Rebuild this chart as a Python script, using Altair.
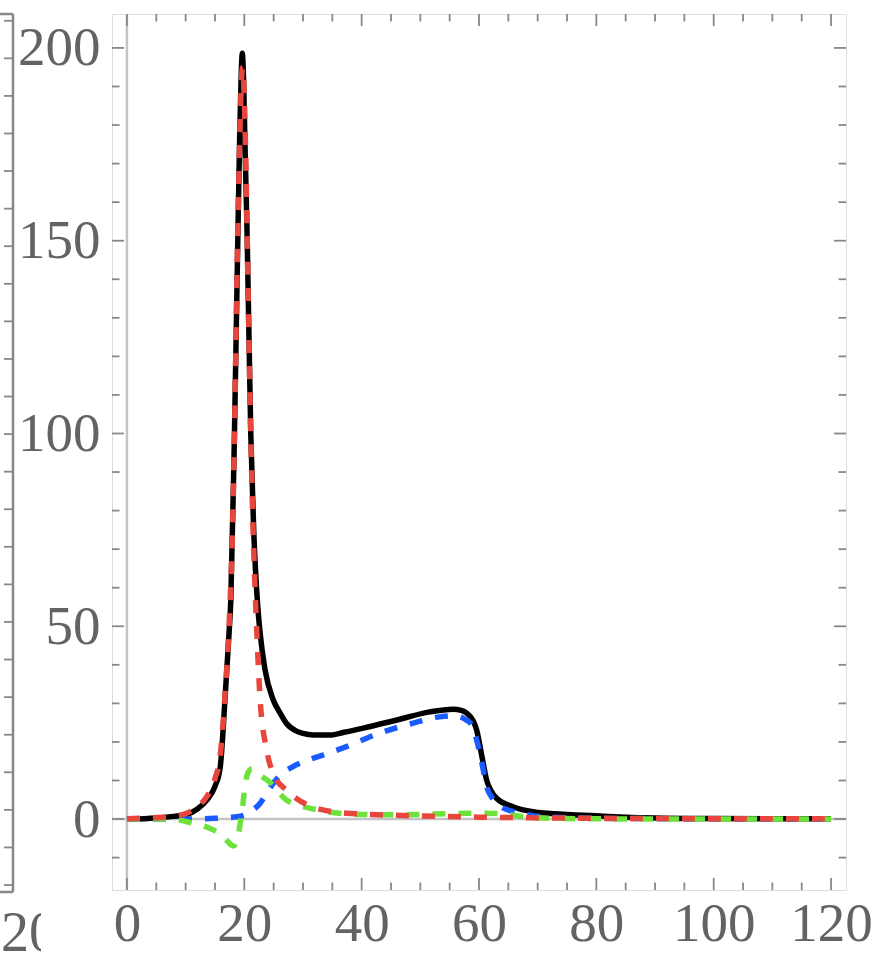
import altair as alt
import pandas as pd

# --- series read as (x, y) pairs ---------------------------------------
total_x = [0, 5, 8, 10.2, 12, 13.6, 15, 15.9, 16.7, 17.4, 17.7, 18.3, 18.9, 19.2, 19.45, 19.66,
           19.9, 20.1, 20.5, 21.1, 21.6, 22.3, 22.7, 23.5, 24.9, 26.1, 27.2, 28.9, 30, 31.8, 34.6,
           37, 40.3, 46, 51.6, 55.6, 57, 57.9, 59, 59.6, 60.5, 61.3, 62, 63, 65.8, 69.2, 75, 80.6,
           85, 90, 100, 110, 120]
total_y = [0, 0.3, 0.7, 1.2, 2.6, 4.9, 8.5, 13.5, 30.9, 48.2, 56.8, 98.3, 151, 176, 192, 198.6,
           190, 176, 150, 100, 75, 55, 48.2, 39, 31, 27.5, 24.8, 22.8, 22.2, 21.8, 21.8,
           22.5, 23.6, 25.7, 27.8, 28.5, 28.2, 27.5, 25.5, 23.1, 16.2, 10.1, 7.5, 5.4, 3.2, 1.9, 1.2, 0.8,
           0.5, 0.3, 0.15, 0.08, 0.05]

peak_x = [0, 4, 7, 10, 12, 13.6, 15, 15.9, 16.7, 17.4, 18.0, 18.3, 18.87, 19.2, 19.5, 19.7,
          19.9, 20.2, 20.5, 21.1, 21.5, 22.2, 22.7, 23.8, 25.2, 27.2, 29, 31.2, 33, 35.1, 40.2,
          45, 50, 60, 70, 80, 100, 120]
peak_y = [0.1, 0.3, 0.6, 1.4, 3.2, 5.8, 10.5, 16.5, 32, 50, 76, 98, 151, 175, 191, 195,
          191, 175, 150, 100, 75, 46, 31, 18, 11, 7.5, 5.2, 3.4, 2.5, 1.9, 1.3,
          1.0, 0.8, 0.5, 0.3, 0.2, 0.1, 0.05]

deriv_x = [0, 8, 10.2, 12, 14.1, 15.5, 16.8, 17.6, 18.1, 18.6, 19.0, 19.3, 19.7, 20.0, 20.4,
           20.8, 21.3, 21.8, 22.5, 23.4, 24.4, 25.8, 27.2, 29, 31.8, 35, 40, 45, 50, 55, 60, 63.6,
           66, 69, 73, 80, 120]
deriv_y = [0, 0, -0.7, -1.3, -2.4, -3.5, -5.2, -6.5, -7.0, -6.2, -4, -1.1, 3, 7, 11,
           12.5, 13, 12.6, 11.6, 10.6, 9.5, 7, 4.9, 3.7, 2.6, 1.7, 1.2, 1.1, 1.2, 1.4, 1.5, 1.4,
           0.9, 0.4, 0.15, 0.05, 0]

broad_x = [0, 10, 15, 18.7, 20.4, 21.5, 22.7, 24, 25.2, 26.1, 28.3, 31.8, 33.4, 37.4, 43.1,
           48.8, 53.3, 55.5, 56.6, 57.6, 58.5, 59.6, 60.5, 61.3, 62.2, 63, 65.8, 68.7, 72, 80,
           90, 120]
broad_y = [0, 0, 0.2, 0.6, 1.3, 2.4, 4.1, 7.2, 9.8, 11.4, 13.6, 15.8, 16.6, 18.8, 22.3,
           24.9, 26.5, 26.8, 26.6, 25.9, 24.9, 20.5, 14.5, 8.4, 5.6, 4.1, 1.9, 1.0, 0.5, 0.2,
           0.1, 0]

x_major = [0, 20, 40, 60, 80, 100, 120]
x_minor = [v for v in range(0, 121, 5) if v % 20]
y_major = [0, 50, 100, 150, 200]
y_minor = [v for v in range(-10, 201, 10) if v % 50]

# frame of the panel to the left (only its right edge shows)
side_ticks = list(range(0, 24))
side_label = ["20"]

# --- layout ---------------------------------------------------------------
W, H = 734, 876
LEFT, TOP = 112, 14
X_DOM = [-2.55, 122.55]
Y_DOM = [-18.4, 208.8]
FRAME = "#888888"
LABEL = "#636363"
FONT = "Liberation Serif"
FS = 55

xs = alt.Scale(domain=X_DOM, nice=False, zero=False)
ys = alt.Scale(domain=Y_DOM, nice=False, zero=False)

XA = alt.Axis(values=x_major, ticks=False, domain=False, grid=False,
              labelFont=FONT, labelFontSize=FS, labelColor=LABEL,
              labelPadding=7, title=None, labelFlush=False, labelOverlap=False)
YA = alt.Axis(values=y_major, ticks=False, domain=False, grid=False,
              labelFont=FONT, labelFontSize=FS, labelColor=LABEL,
              labelPadding=12, title=None, labelFlush=False, labelOverlap=False)


def X(field):
    return alt.X(field, scale=xs, axis=XA)


def Y(field, axis=None):
    return alt.Y(field, scale=ys, axis=axis)


def curve(xv, yv, color, dash=None, axis=None):
    kw = dict(color=color, strokeWidth=5.5, interpolate="monotone", clip=True)
    if dash:
        kw["strokeDash"] = dash
    return alt.Chart(pd.DataFrame({"x": xv, "y": yv})).mark_line(**kw).encode(
        x=X("x:Q"), y=Y("y:Q", axis))


# light zero axes
zero_h = alt.Chart(pd.DataFrame({"y": [0]})).mark_rule(color="#c4c4c4", strokeWidth=2.5).encode(
    y=Y("y:Q"))
zero_v = alt.Chart(pd.DataFrame({"x": [0]})).mark_rule(color="#c4c4c4", strokeWidth=2.5).encode(
    x=X("x:Q"))


# inward frame ticks on all four sides
def xticks(vals, length):
    base = alt.Chart(pd.DataFrame({"v": vals})).mark_rule(color=FRAME, strokeWidth=1.8)
    bottom = base.encode(x=X("v:Q"), y=alt.value(H), y2=alt.value(H - length))
    top = base.encode(x=X("v:Q"), y=alt.value(0), y2=alt.value(length))
    return bottom + top


def yticks(vals, length):
    base = alt.Chart(pd.DataFrame({"v": vals})).mark_rule(color=FRAME, strokeWidth=1.8)
    left = base.encode(y=Y("v:Q"), x=alt.value(0), x2=alt.value(length))
    right = base.encode(y=Y("v:Q"), x=alt.value(W), x2=alt.value(W - length))
    return left + right


# neighbouring panel edge: frame line, its ticks and a clipped tick label
edge_x = -LEFT + 13
side_line = alt.Chart(pd.DataFrame({"k": [0]})).mark_rule(color=FRAME, strokeWidth=2.5).encode(
    x=alt.value(edge_x), y=alt.value(0), y2=alt.value(H + 2))
side_top = alt.Chart(pd.DataFrame({"k": [0]})).mark_rule(color=FRAME, strokeWidth=2.5).encode(
    x=alt.value(-LEFT), x2=alt.value(edge_x), y=alt.value(0))
side_bottom = alt.Chart(pd.DataFrame({"k": [0]})).mark_rule(color=FRAME, strokeWidth=2.5).encode(
    x=alt.value(-LEFT), x2=alt.value(edge_x), y=alt.value(H + 2))
side_tk = alt.Chart(pd.DataFrame({"v": side_ticks})).mark_rule(color=FRAME, strokeWidth=1.8).encode(
    y=alt.Y("v:Q", scale=alt.Scale(domain=[-0.133, 23.18], nice=False, zero=False), axis=None),
    x=alt.value(edge_x - 9), x2=alt.value(edge_x))
side_txt = alt.Chart(pd.DataFrame({"t": side_label})).mark_text(
    font=FONT, fontSize=56, color=LABEL, align="left", baseline="alphabetic").encode(
    text="t:N", x=alt.value(-LEFT + 1), y=alt.value(H + 61))
side_mask = alt.Chart(pd.DataFrame({"k": [0]})).mark_rect(color="white").encode(
    x=alt.value(-LEFT + 41), x2=alt.value(-LEFT + 95), y=alt.value(H + 8), y2=alt.value(H + 75))

chart = alt.layer(
    zero_h,
    zero_v,
    xticks(x_major, 12),
    xticks(x_minor, 7.5),
    yticks(y_major, 12),
    yticks(y_minor, 7.5),
    side_line,
    side_top,
    side_bottom,
    side_tk,
    side_txt,
    side_mask,
    curve(total_x, total_y, "#000000", axis=YA),
    curve(broad_x, broad_y, "#1a5cff", dash=[13, 13]),
    curve(deriv_x, deriv_y, "#6ee23c", dash=[13, 13]),
    curve(peak_x, peak_y, "#e8453c", dash=[13, 13]),
).resolve_scale(
    y="independent"
).properties(
    width=W,
    height=H,
    autosize=alt.AutoSizeParams(type="none"),
    padding={"left": LEFT, "top": TOP, "right": 879 - LEFT - W, "bottom": 963 - TOP - H},
).configure_view(
    stroke=FRAME, strokeWidth=2.2
).configure(background="white")

chart.save("out.html", embed_options={"renderer": "svg", "actions": False})
